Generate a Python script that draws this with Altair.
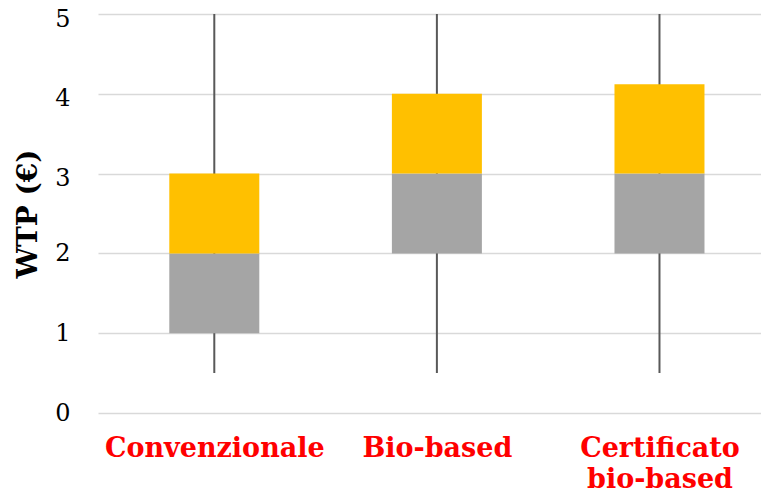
import altair as alt
import pandas as pd

categories = ["Convenzionale", "Bio-based", "Certificato bio-based"]
label_lines = [["Convenzionale"], ["Bio-based"], ["Certificato", "bio-based"]]
whisker_low = [0.5, 0.5, 0.5]
whisker_high = [5.0, 5.0, 5.0]
q1 = [1.0, 2.0, 2.0]
median = [2.0, 3.0, 3.0]
q3 = [3.0, 4.0, 4.12]
y_ticks = [0, 1, 2, 3, 4, 5]

df = pd.DataFrame({
    "idx": list(range(len(categories))),
    "cat": categories,
    "lo": whisker_low,
    "hi": whisker_high,
    "q1": q1,
    "med": median,
    "q3": q3,
})

# label expression built from the category label lists
expr = "''"
for i in reversed(range(len(label_lines))):
    lines = label_lines[i]
    if len(lines) == 1:
        lab = "'" + lines[0] + "'"
    else:
        lab = "[" + ", ".join("'" + s + "'" for s in lines) + "]"
    expr = f"datum.value == {i} ? {lab} : ({expr})"

xscale = alt.Scale(domain=[-0.5, 2.4336], nice=False, zero=False)
yscale = alt.Scale(domain=[0, 5], nice=False)

x = alt.X(
    "idx:Q",
    scale=xscale,
    title=None,
    axis=alt.Axis(
        values=list(range(len(categories))),
        labelAngle=0,
        labelFont="DejaVu Serif",
        labelFontWeight="bold",
        labelFontSize=27,
        labelColor="#FF0000",
        labelPadding=22,
        labelLineHeight=31,
        labelBaseline="top",
        labelLimit=0,
        labelExpr=expr,
        ticks=False,
        domain=False,
        grid=False,
    ),
)

yaxis = alt.Axis(
    values=y_ticks,
    format="d",
    labelFont="DejaVu Serif",
    labelFontSize=24,
    labelColor="#000000",
    labelPadding=28,
    labelOffset={"condition": {"test": "datum.value >= 3", "value": 5}, "value": 0},
    ticks=False,
    domain=False,
    grid=True,
    gridColor="#D9D9D9",
    gridWidth=1.5,
    title="WTP (€)",
    titleFont="DejaVu Serif",
    titleFontWeight="bold",
    titleFontSize=28,
    titleColor="#000000",
    titlePadding=12,
)

whisk = alt.Chart(df).mark_rule(color="#595959", strokeWidth=2).encode(
    x=x,
    y=alt.Y("lo:Q", scale=yscale, axis=yaxis),
    y2="hi:Q",
)

lower = alt.Chart(df).mark_bar(size=90, color="#A5A5A5").encode(
    x=x,
    y=alt.Y("q1:Q", scale=yscale),
    y2="med:Q",
)

upper = alt.Chart(df).mark_bar(size=90, color="#FFC000").encode(
    x=x,
    y=alt.Y("med:Q", scale=yscale),
    y2="q3:Q",
)

chart = alt.layer(whisk, lower, upper).properties(
    width=663,
    height=399,
    autosize=alt.AutoSizeParams(type="none"),
    padding={"left": 90, "top": 6, "right": 0, "bottom": 84},
).configure_view(stroke=None)

chart.save("out.html", embed_options={"renderer": "svg", "actions": False})
